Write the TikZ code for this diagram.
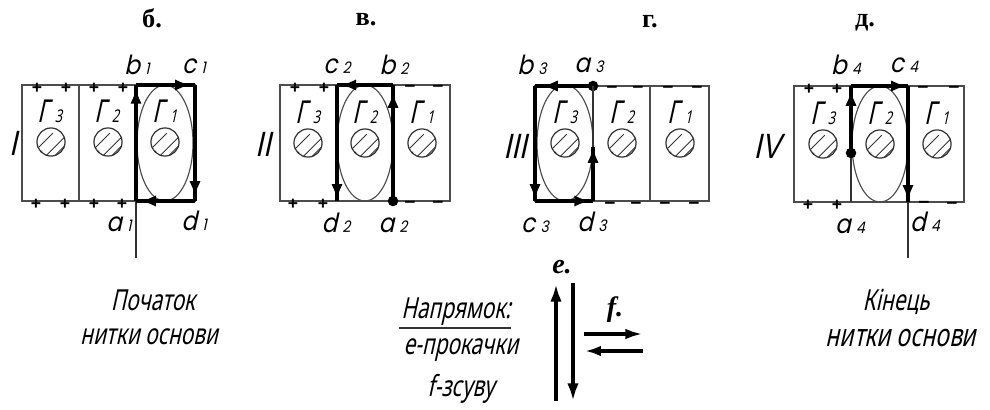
\documentclass[tikz,border=0pt]{standalone}
\usepackage{fontspec}
\usepackage{tikz}
\usetikzlibrary{arrows.meta,decorations.markings}

\newfontfamily\sketchfont[FakeSlant=0.22,FakeStretch=0.72]{Noto Sans}
\newfontfamily\romanfont[FakeSlant=0.22,FakeStretch=0.8]{Liberation Sans}
\newfontfamily\pointfont[FakeSlant=0.22,FakeStretch=0.88]{Poppins}
\newfontfamily\signfont[Ligatures=TeX]{Liberation Sans}
\newfontfamily\titlefont{Liberation Serif}

\newcommand{\gamlabel}[1]{{\fontsize{18}{18}\selectfont Г}\hspace{3pt}{\fontsize{10}{10}\selectfont #1}}
\newcommand{\ptlabel}[2]{{\fontsize{15}{15}\selectfont #1}\hspace{3pt}{\fontsize{9}{9}\selectfont #2}}

\tikzset{
    frame/.style={draw=black!70, line width=0.65pt},
    heavy/.style={line width=2pt, black},
    thinline/.style={line width=0.6pt, black!80},
    headat/.style={postaction={decorate}, decoration={markings,
        mark=at position #1 with {\arrow{Latex[length=9pt,width=6.5pt]}}}},
    wire/.style={circle, draw=black!80, line width=0.7pt, minimum size=16pt, inner sep=0pt,
        path picture={
            \draw[line width=0.5pt] ([xshift=-9pt,yshift=-5pt]path picture bounding box.center) -- ++(10pt,10pt);
            \draw[line width=0.5pt] ([xshift=-4pt,yshift=-9pt]path picture bounding box.center) -- ++(12pt,12pt);
            \draw[line width=0.5pt] ([xshift=-10pt,yshift=-10pt]path picture bounding box.center) -- ++(5pt,5pt);
            \draw[line width=0.5pt] ([xshift=1pt,yshift=-9pt]path picture bounding box.center) -- ++(9pt,9pt);
        }},
    gam/.style={font=\sketchfont, inner sep=0pt},
    pt/.style={font=\pointfont, inner sep=0pt},
    roman/.style={font=\romanfont\fontsize{20}{20}\selectfont, inner sep=0pt},
    note/.style={font=\sketchfont\fontsize{16.5}{16.5}\selectfont, inner sep=0pt},
    title/.style={font=\titlefont\bfseries\fontsize{15}{15}\selectfont, inner sep=0pt},
    dirlabel/.style={font=\titlefont\bfseries\itshape\fontsize{16}{16}\selectfont, inner sep=0pt},
    plussign/.style={font=\signfont\bfseries\fontsize{10}{10}\selectfont, inner sep=0pt},
    minussign/.style={font=\signfont\bfseries\fontsize{11}{11}\selectfont, inner sep=0pt},
    dot/.style={circle, fill=black, minimum size=6pt, inner sep=0pt}
}

\begin{document}
\begin{tikzpicture}[x=0.02cm,y=-0.02cm]
    \useasboundingbox (0,0) rectangle (990,409);

    % Titles
    \node[title] (tb) at (152,18) {б.};
    \node[title] (tv) at (366,20) {в.};
    \node[title] (th) at (650,22) {г.};
    \node[title] (td) at (865,23) {д.};

    % Panel I
    \draw[frame] (22,85) rectangle (195,201);
    \draw[frame] (79,85) -- (79,201);
    \draw[frame] (165,143) ellipse (28 and 58);
    \node[wire] (w13) at (51,142) {};
    \node[wire] (w12) at (108,142) {};
    \node[wire] (w11) at (165,142) {};
    \node[gam] (g13) at (50,111) {\gamlabel{3}};
    \node[gam] (g12) at (107,111) {\gamlabel{2}};
    \node[gam] (g11) at (165,111) {\gamlabel{1}};
    \node[roman] (r1) at (13,143) {I};
    \coordinate (a1) at (136,201);
    \coordinate (b1) at (136,85);
    \coordinate (c1) at (195,85);
    \coordinate (d1) at (195,201);
    \coordinate (e1) at (136,258);
    \draw[thinline] (a1) -- (e1);
    \draw[heavy,headat=0.975] (a1) -- (b1);
    \draw[heavy,headat=0.93] (b1) -- (c1);
    \draw[heavy,headat=0.965] (c1) -- (d1);
    \draw[heavy,headat=0.93] (d1) -- (a1);
    \node[pt] (lb1) at (137,65) {\ptlabel{b}{1}};
    \node[pt] (lc1) at (194,66) {\ptlabel{c}{1}};
    \node[pt] (la1) at (119,224) {\ptlabel{a}{1}};
    \node[pt] (ld1) at (194,221) {\ptlabel{d}{1}};
    \node[plussign] (s11) at (37,88) {+};
    \node[plussign] (s12) at (66,88) {+};
    \node[plussign] (s13) at (94,88) {+};
    \node[plussign] (s14) at (123,88) {+};
    \node[plussign] (s15) at (36,204) {+};
    \node[plussign] (s16) at (65,204) {+};
    \node[plussign] (s17) at (94,204) {+};
    \node[plussign] (s18) at (122,204) {+};

    % Panel II
    \draw[frame] (280,85) rectangle (450,201);
    \draw[frame] (337,85) -- (337,201);
    \draw[frame] (393,85) -- (393,201);
    \draw[frame] (365,143) ellipse (28 and 58);
    \node[wire] (w23) at (308,143) {};
    \node[wire] (w22) at (365,143) {};
    \node[wire] (w21) at (422,143) {};
    \node[gam] (g23) at (308,112) {\gamlabel{3}};
    \node[gam] (g22) at (365,112) {\gamlabel{2}};
    \node[gam] (g21) at (422,112) {\gamlabel{1}};
    \node[roman] (r2) at (263,144) {II};
    \coordinate (a2) at (393,201);
    \coordinate (b2) at (393,85);
    \coordinate (c2) at (337,85);
    \coordinate (d2) at (337,201);
    \draw[heavy,headat=0.94] (a2) -- (b2);
    \draw[heavy,headat=0.94] (b2) -- (c2);
    \draw[heavy,headat=0.99] (c2) -- (d2);
    \node[dot] (n2) at (a2) {};
    \node[pt] (lc2) at (337,66) {\ptlabel{c}{2}};
    \node[pt] (lb2) at (394,65) {\ptlabel{b}{2}};
    \node[pt] (ld2) at (336,223) {\ptlabel{d}{2}};
    \node[pt] (la2) at (393,225) {\ptlabel{a}{2}};
    \node[plussign] (s21) at (295,88) {+};
    \node[plussign] (s22) at (324,88) {+};
    \node[plussign] (s23) at (293,204) {+};
    \node[plussign] (s24) at (323,204) {+};
    \node[minussign] (s25) at (410,88) {--};
    \node[minussign] (s26) at (438,88) {--};
    \node[minussign] (s27) at (410,204) {--};
    \node[minussign] (s28) at (438,204) {--};

    % Panel III
    \draw[frame] (535,86) rectangle (709,201);
    \draw[frame] (593,86) -- (593,201);
    \draw[frame] (650,86) -- (650,201);
    \draw[frame] (565,143) ellipse (28 and 58);
    \node[wire] (w33) at (565,143) {};
    \node[wire] (w32) at (622,143) {};
    \node[wire] (w31) at (680,143) {};
    \node[gam] (g33) at (565,112) {\gamlabel{3}};
    \node[gam] (g32) at (622,112) {\gamlabel{2}};
    \node[gam] (g31) at (680,112) {\gamlabel{1}};
    \node[roman] (r3) at (515,146) {III};
    \coordinate (a3) at (593,86);
    \coordinate (b3) at (535,86);
    \coordinate (c3) at (535,201);
    \coordinate (d3) at (593,201);
    \coordinate (m3) at (593,147);
    \draw[heavy,headat=0.88] (a3) -- (b3);
    \draw[heavy,headat=0.99] (b3) -- (c3);
    \draw[heavy,headat=0.95] (c3) -- (d3);
    \draw[heavy,headat=1] (d3) -- (m3);
    \node[dot] (n3) at (a3) {};
    \draw[thinline] (m3) -- (a3);
    \node[pt] (lb3) at (532,65) {\ptlabel{b}{3}};
    \node[pt] (la3) at (589,65) {\ptlabel{a}{3}};
    \node[pt] (lc3) at (535,225) {\ptlabel{c}{3}};
    \node[pt] (ld3) at (592,222) {\ptlabel{d}{3}};
    \node[minussign] (s31) at (612,89) {--};
    \node[minussign] (s32) at (638,89) {--};
    \node[minussign] (s33) at (668,89) {--};
    \node[minussign] (s34) at (697,89) {--};
    \node[minussign] (s35) at (610,205) {--};
    \node[minussign] (s36) at (636,205) {--};
    \node[minussign] (s37) at (665,205) {--};
    \node[minussign] (s38) at (694,205) {--};

    % Panel IV
    \draw[frame] (794,86) rectangle (964,202);
    \draw[frame] (880,144) ellipse (28 and 58);
    \node[wire] (w43) at (823,144) {};
    \node[wire] (w42) at (880,144) {};
    \node[wire] (w41) at (937,144) {};
    \node[gam] (g43) at (823,113) {\gamlabel{3}};
    \node[gam] (g42) at (880,113) {\gamlabel{2}};
    \node[gam] (g41) at (937,113) {\gamlabel{1}};
    \node[roman] (r4) at (767,146) {IV};
    \coordinate (a4) at (851,202);
    \coordinate (m4) at (851,153);
    \coordinate (b4) at (851,86);
    \coordinate (c4) at (908,86);
    \coordinate (d4) at (908,202);
    \coordinate (e4) at (908,258);
    \draw[thinline] (a4) -- (m4);
    \draw[thinline] (d4) -- (e4);
    \draw[heavy,headat=0.94] (m4) -- (b4);
    \draw[heavy,headat=0.98] (b4) -- (c4);
    \draw[heavy,headat=0.99] (c4) -- (d4);
    \node[dot] (n4) at (m4) {};
    \node[pt] (lb4) at (846,65) {\ptlabel{b}{4}};
    \node[pt] (lc4) at (904,65) {\ptlabel{c}{4}};
    \node[pt] (la4) at (850,226) {\ptlabel{a}{4}};
    \node[pt] (ld4) at (925,222) {\ptlabel{d}{4}};
    \node[plussign] (s41) at (809,89) {+};
    \node[plussign] (s42) at (837,89) {+};
    \node[plussign] (s43) at (808,205) {+};
    \node[plussign] (s44) at (837,205) {+};
    \node[minussign] (s45) at (923,89) {--};
    \node[minussign] (s46) at (954,89) {--};
    \node[minussign] (s47) at (924,204) {--};
    \node[minussign] (s48) at (952,205) {--};

    % Notes
    \node[note] (n11) at (153,300) {Початок};
    \node[note] (n12) at (149,337) {нитки основи};
    \node[note] (n21) at (456,312) {Напрямок:};
    \coordinate (u1) at (399,328);
    \coordinate (u2) at (511,328);
    \draw[thinline] (u1) -- (u2);
    \node[note] (n22) at (461,350) {е-прокачки};
    \node[note] (n23) at (461,389) {f-зсуву};
    \node[note] (n31) at (896,302) {Кінець};
    \node[note] (n32) at (901,338) {\fontsize{18}{18}\selectfont нитки основи};

    % Directions
    \node[dirlabel] (le) at (562,267) {e.};
    \node[dirlabel] (lf) at (615,310) {f.};
    \coordinate (e1a) at (556,401);
    \coordinate (e1b) at (556,284);
    \coordinate (e2a) at (573,283);
    \coordinate (e2b) at (573,401);
    \coordinate (f1a) at (584,334);
    \coordinate (f1b) at (643,334);
    \coordinate (f2a) at (643,351);
    \coordinate (f2b) at (585,351);
    \draw[heavy,-{Latex[length=10pt,width=6.5pt]}] (e1a) -- (e1b);
    \draw[heavy,-{Latex[length=10pt,width=6.5pt]}] (e2a) -- (e2b);
    \draw[heavy,-{Latex[length=10pt,width=6pt]}] (f1a) -- (f1b);
    \draw[heavy,-{Latex[length=9pt,width=6pt]}] (f2a) -- (f2b);
\end{tikzpicture}
\end{document}
